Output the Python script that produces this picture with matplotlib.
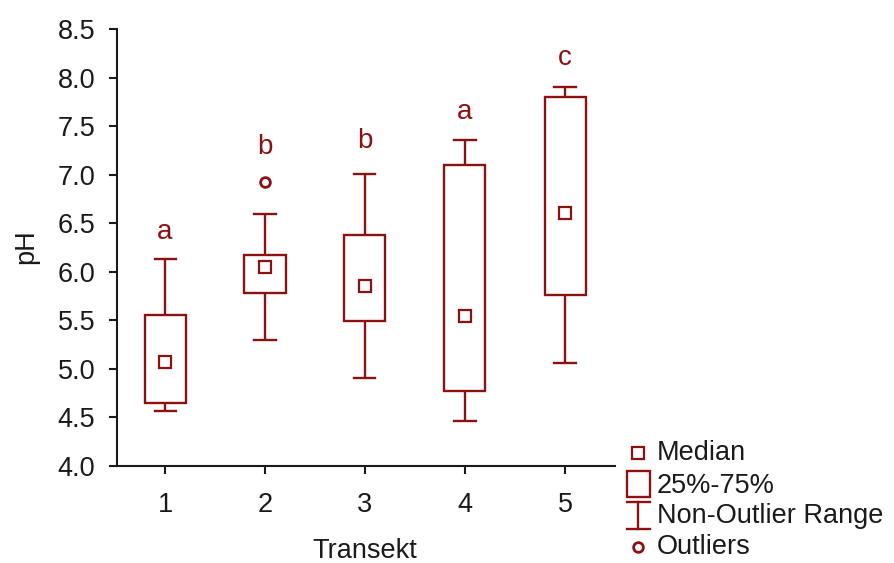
import matplotlib
matplotlib.use("Agg")
import matplotlib.pyplot as plt
from matplotlib.patches import Rectangle

plt.rcParams['font.family'] = ['Liberation Sans', 'DejaVu Sans']

categories = ["1", "2", "3", "4", "5"]
medians = [5.07, 6.05, 5.85, 5.54, 6.61]
q1 = [4.65, 5.78, 5.49, 4.77, 5.76]
q3 = [5.55, 6.17, 6.38, 7.10, 7.80]
whisk_lo = [4.57, 5.30, 4.91, 4.46, 5.06]
whisk_hi = [6.13, 6.60, 7.01, 7.36, 7.90]
outliers = [[], [6.92], [], [], []]
letters = ["a", "b", "b", "a", "c"]
letter_y = [6.34, 7.21, 7.27, 7.57, 8.13]
yticks = [4.0, 4.5, 5.0, 5.5, 6.0, 6.5, 7.0, 7.5, 8.0, 8.5]

RED = "#8c1212"
TXT = "#1a1a1a"
W, H = 894, 563
fig = plt.figure(figsize=(W / 100, H / 100), dpi=100)
ax = fig.add_axes([117 / W, 1 - 466 / H, (615 - 117) / W, (466 - 29) / H])

LW = 1.7
FS = 19.5
pos = list(range(1, len(categories) + 1))
bw, cw = 0.41, 0.21
for i, x in enumerate(pos):
    ax.add_patch(Rectangle((x - bw / 2, q1[i]), bw, q3[i] - q1[i], fill=False,
                           edgecolor=RED, lw=LW, joinstyle='miter'))
    ax.plot([x, x], [q3[i], whisk_hi[i]], color=RED, lw=LW, solid_capstyle='butt')
    ax.plot([x, x], [whisk_lo[i], q1[i]], color=RED, lw=LW, solid_capstyle='butt')
    ax.plot([x - cw / 2, x + cw / 2], [whisk_hi[i]] * 2, color=RED, lw=LW)
    ax.plot([x - cw / 2, x + cw / 2], [whisk_lo[i]] * 2, color=RED, lw=LW)
    ax.plot([x], [medians[i]], marker='s', ms=8, mfc='white', mec=RED, mew=1.6, ls='none')
    if outliers[i]:
        ax.plot([x] * len(outliers[i]), outliers[i], marker='o', ms=7, mfc='white',
                mec=RED, mew=2, ls='none')
    ax.text(x, letter_y[i], letters[i], color=RED, ha='center', va='baseline', fontsize=20)

ax.set_xlim(0.52, 5.5)
ax.set_ylim(4.0, 8.5)
ax.set_xticks(pos)
ax.set_xticklabels(categories)
ax.set_yticks(yticks)
ax.set_yticklabels([f"{v:.1f}" for v in yticks])
for s in ['top', 'right']:
    ax.spines[s].set_visible(False)
for s in ['left', 'bottom']:
    ax.spines[s].set_color(TXT)
    ax.spines[s].set_linewidth(1.5)
ax.tick_params(direction='out', length=5.5, width=1.5, colors=TXT, labelsize=FS)
ax.tick_params(axis='y', pad=10)
ax.tick_params(axis='x', pad=13)
ax.set_xlabel("Transekt", fontsize=FS, color=TXT)
ax.set_ylabel("pH", fontsize=FS, color=TXT)
ax.xaxis.set_label_coords((365 - 117) / 498, -(558 - 466) / 437)
ax.xaxis.label.set_va('baseline')
ax.yaxis.set_label_coords((39 - 117) / 498, 0.502)

# legend
lax = fig.add_axes([0, 0, 1, 1])
lax.set_xlim(0, W)
lax.set_ylim(H, 0)
lax.axis('off')
lx = 638
lax.plot([lx], [453], marker='s', ms=8, mfc='white', mec=RED, mew=1.6, ls='none')
lax.add_patch(Rectangle((lx - 11.5, 471), 23, 26, fill=False, edgecolor=RED, lw=LW))
lax.plot([lx, lx], [502, 529], color=RED, lw=LW)
lax.plot([lx - 11.5, lx + 11.5], [502, 502], color=RED, lw=LW)
lax.plot([lx - 11.5, lx + 11.5], [529, 529], color=RED, lw=LW)
lax.plot([lx], [547], marker='o', ms=7, mfc='white', mec=RED, mew=2, ls='none')
for yy, t in zip([460, 493, 523, 554], ["Median", "25%-75%", "Non-Outlier Range", "Outliers"]):
    lax.text(657, yy, t, fontsize=FS, color=TXT, va='baseline', ha='left')

fig.savefig("out.png", dpi=100)
